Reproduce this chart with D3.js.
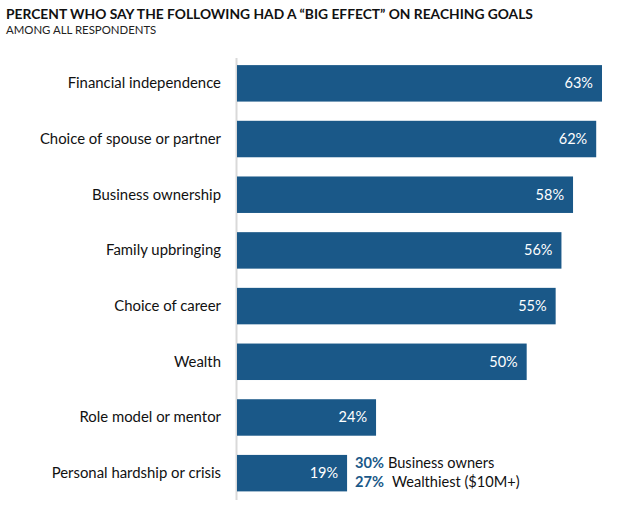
<!DOCTYPE html>
<html><head><meta charset="utf-8">
<script src="https://cdn.jsdelivr.net/npm/d3@7"></script>
<style>
body{margin:0;background:#fff;}
text{font-family:Lato,"Open Sans",sans-serif;}
</style></head>
<body><svg id="c" width="622" height="516"></svg>
<script>
const categories = ["Financial independence","Choice of spouse or partner","Business ownership","Family upbringing","Choice of career","Wealth","Role model or mentor","Personal hardship or crisis"];
const values = [63,62,58,56,55,50,24,19];
const noteValues = [30,27];
const noteLabels = ["Business owners","Wealthiest ($10M+)"];
const title = "PERCENT WHO SAY THE FOLLOWING HAD A \u201CBIG EFFECT\u201D ON REACHING GOALS";
const subtitle = "AMONG ALL RESPONDENTS";

const svg = d3.select("#c");
const blue = "#1a5888";
const x0 = 237;
const x = d3.scaleLinear().domain([0,63]).range([x0, 602]);
const y = d3.scaleBand().domain(categories).range([55.5,501]).paddingInner(0.345).paddingOuter(0.1725);

svg.append("text").attr("x",6).attr("y",19).attr("font-size",13.8).attr("font-weight","bold").attr("fill","#111").text(title);
svg.append("text").attr("x",6).attr("y",34).attr("font-size",11.4).attr("fill","#222").text(subtitle);

svg.append("line").attr("x1",x0-0.5).attr("x2",x0-0.5).attr("y1",58).attr("y2",500).attr("stroke","#d9d9d9").attr("stroke-width",2);

svg.selectAll("rect.bar").data(values).join("rect").attr("class","bar")
 .attr("x",x0).attr("y",(d,i)=>y(categories[i])).attr("width",d=>x(d)-x0).attr("height",y.bandwidth()).attr("fill",blue);

svg.selectAll("text.val").data(values).join("text").attr("class","val")
 .attr("x",d=>x(d)-9).attr("y",(d,i)=>y(categories[i])+y.bandwidth()/2+5).attr("text-anchor","end")
 .attr("font-size",14.5).attr("fill","#fff").text(d=>d+"%");

svg.selectAll("text.cat").data(categories).join("text").attr("class","cat")
 .attr("x",221).attr("y",d=>y(d)+y.bandwidth()/2+5).attr("text-anchor","end")
 .attr("font-size",14.9).attr("fill","#111").text(d=>d);

const last = categories[categories.length-1];
const ny = [y(last)+13, y(last)+32];
noteValues.forEach((v,i)=>{
  const t = svg.append("text").attr("x",355).attr("y",ny[i]).attr("font-size",14.6);
  t.append("tspan").attr("font-weight","bold").attr("fill",blue).text(v+"%");
  t.append("tspan").attr("fill","#111").attr("dx", i===0?4:8).text(noteLabels[i]);
});
</script></body></html>
